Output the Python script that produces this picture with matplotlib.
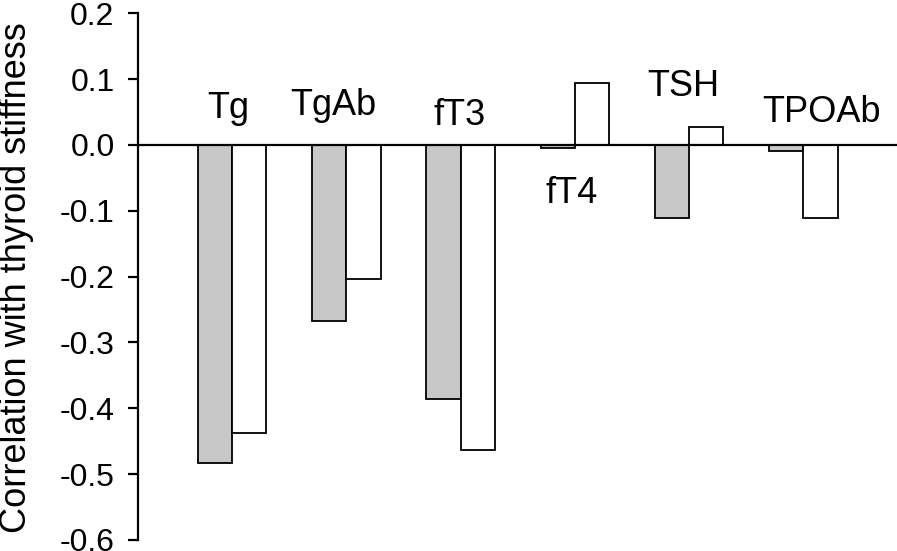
import numpy as np
from matplotlib import pyplot as plt

plt.rcParams['font.family'] = ['Liberation Sans', 'DejaVu Sans']

hormones = ['Tg', 'TgAb', 'fT3', 'fT4', 'TSH', 'TPOAb']
gray_vals = [-0.483, -0.267, -0.386, -0.004, -0.111, -0.009]
white_vals = [-0.438, -0.203, -0.464, 0.094, 0.027, -0.111]
ticks = [-0.6, -0.5, -0.4, -0.3, -0.2, -0.1, 0.0, 0.1, 0.2]
tick_labels = ['-0.6', '-0.5', '-0.4', '-0.3', '-0.2', '-0.1', '0.0', '0.1', '0.2']

# where each hormone name sits (group units, data y of baseline)
label_x = [0.97, 1.89, 2.99, 3.97, 4.95, 6.16]
label_y = [0.041, 0.046, 0.030, -0.088, 0.074, 0.035]

x = np.arange(1, len(hormones) + 1)
w = 0.3

fig = plt.figure(figsize=(8.97, 5.51), dpi=100)
ax = fig.add_axes([0.154, 0.020, 0.846, 0.956])

ax.bar(x - w / 2, gray_vals, w, color='#c8c8c8', edgecolor='black', linewidth=1.3, zorder=2)
ax.bar(x + w / 2, white_vals, w, color='white', edgecolor='black', linewidth=1.3, zorder=2)
ax.axhline(0, color='black', linewidth=1.6, zorder=3)

for i in range(len(hormones)):
    ax.text(label_x[i], label_y[i], hormones[i], ha='center', va='baseline', fontsize=26)

ax.set_xlim(0.178, 6.82)
ax.set_ylim(-0.6, 0.2)
ax.set_yticks(ticks)
ax.set_yticklabels(tick_labels)
ax.set_xticks([])
for s in ['top', 'right', 'bottom']:
    ax.spines[s].set_visible(False)
ax.spines['left'].set_linewidth(1.6)
ax.tick_params(axis='y', length=7, width=1.6, labelsize=23, pad=10)

fig.text(0.018, 0.497, 'Correlation with thyroid stiffness', rotation=90, ha='center', va='center', fontsize=26)

fig.savefig('out.png', dpi=100)
